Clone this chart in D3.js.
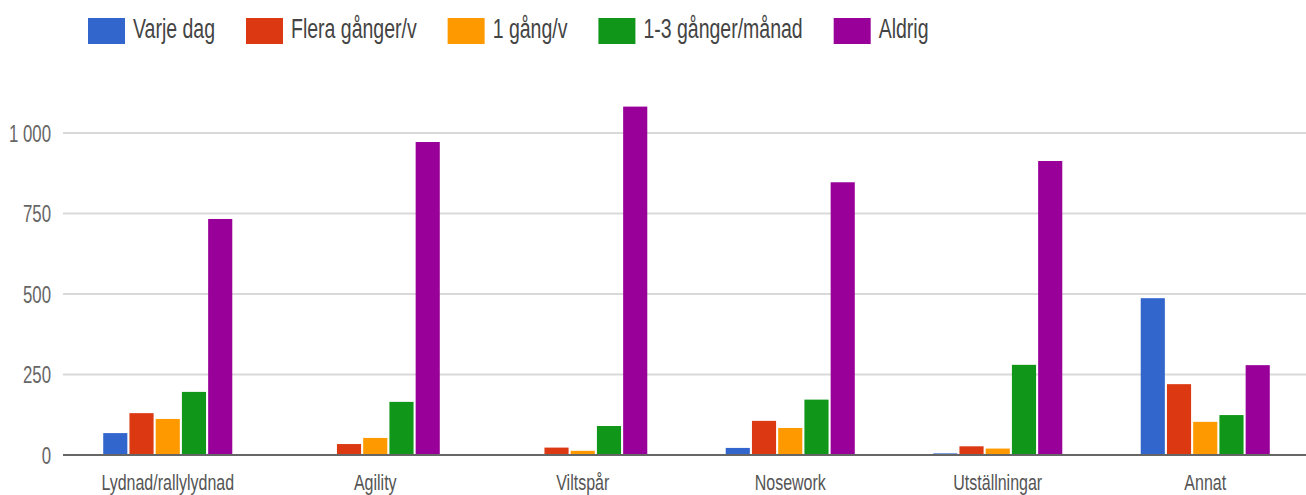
<!DOCTYPE html>
<html><head><meta charset="utf-8">
<script src="https://cdn.jsdelivr.net/npm/d3@7"></script>
<style>
html,body{margin:0;padding:0;background:#fff;}
svg{display:block;font-family:"Liberation Sans",Arial,sans-serif;}
</style></head>
<body>
<svg id="chart" width="1306" height="495"></svg>
<script>
const categories = ["Lydnad/rallylydnad","Agility","Viltspår","Nosework","Utställningar","Annat"];
const seriesNames = ["Varje dag","Flera gånger/v","1 gång/v","1-3 gånger/månad","Aldrig"];
const varjeDag     = [68, 0, 0, 22, 5, 487];
const fleraGanger  = [130, 34, 23, 106, 27, 220];
const enGang       = [112, 53, 13, 84, 20, 103];
const enTillTre    = [196, 165, 90, 172, 280, 124];
const aldrig       = [733, 972, 1082, 847, 913, 279];
const yTicks = [0, 250, 500, 750, 1000];
const colors = ["#3366cc","#dc3912","#ff9900","#109618","#990099"];

const seriesValues = [varjeDag, fleraGanger, enGang, enTillTre, aldrig];
const data = categories.map((c, i) => ({cat: c, vals: seriesValues.map((s, j) => ({key: seriesNames[j], v: s[i]}))}));

const svg = d3.select("#chart");
const left = 64, right = 1309, base = 455, top1000 = 133;
const SY = 1.38;

const x0 = d3.scaleBand().domain(categories).range([left, right]).paddingInner(0.378).paddingOuter(0.189);
const x1 = d3.scaleBand().domain(seriesNames).range([0, x0.bandwidth()]).paddingInner(0.08);
const y = d3.scaleLinear().domain([0, 1000]).range([base, top1000]);
const color = d3.scaleOrdinal().domain(seriesNames).range(colors);
const fmt = d3.formatLocale({decimal: ",", thousands: " ", grouping: [3], currency: ["", " kr"]}).format(",d");

// gridlines
svg.append("g").selectAll("line").data(yTicks.filter(t => t > 0)).join("line")
  .attr("x1", 63).attr("x2", 1306)
  .attr("y1", d => y(d)).attr("y2", d => y(d))
  .attr("stroke", "#d9d9d9").attr("stroke-width", 2);

// y tick labels
svg.append("g").selectAll("text").data(yTicks).join("text")
  .attr("transform", d => `translate(51,${y(d) + 8.5}) scale(1,${SY})`)
  .attr("text-anchor", "end")
  .attr("font-size", 16.8).attr("fill", "#666")
  .text(d => fmt(d));

// bars
svg.append("g").selectAll("g").data(data).join("g")
  .attr("transform", d => `translate(${x0(d.cat)},0)`)
  .selectAll("rect").data(d => d.vals).join("rect")
  .attr("x", d => x1(d.key))
  .attr("width", x1.bandwidth())
  .attr("y", d => y(d.v))
  .attr("height", d => base - y(d.v))
  .attr("fill", d => color(d.key));

// baseline
svg.append("line").attr("x1", 63).attr("x2", 1306).attr("y1", y(0)).attr("y2", y(0))
  .attr("stroke", "#666").attr("stroke-width", 2);

// x labels
svg.append("g").selectAll("text").data(categories).join("text")
  .attr("transform", d => `translate(${x0(d) + x0.bandwidth() / 2},490) scale(1,${SY})`)
  .attr("text-anchor", "middle")
  .attr("font-size", 16).attr("fill", "#555")
  .text(d => d);

// legend
const leg = svg.append("g");
let lx = 88;
seriesNames.forEach((name, i) => {
  leg.append("rect").attr("x", lx).attr("y", 18).attr("width", 37).attr("height", 26).attr("fill", colors[i]);
  const t = leg.append("text")
    .attr("transform", `translate(${lx + 45},38) scale(1,${SY})`)
    .attr("font-size", 19.5).attr("fill", "#444").text(name);
  lx += 45 + t.node().getComputedTextLength() + 31;
});
</script>
</body></html>
